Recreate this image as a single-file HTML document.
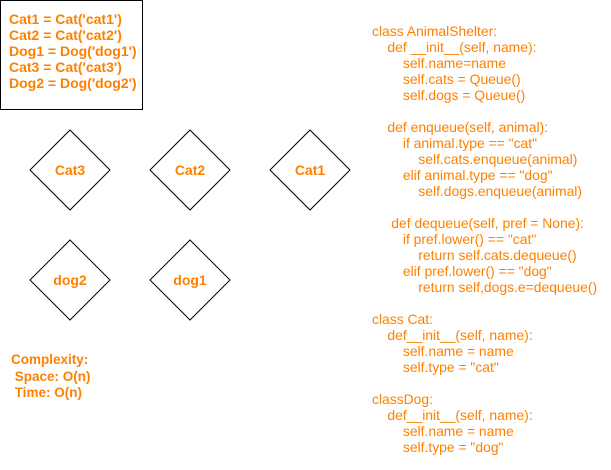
<!DOCTYPE html>
<html><head><meta charset="utf-8"><style>
body{margin:0;width:611px;height:470px;background:#fff;position:relative;overflow:hidden;font-family:"Liberation Sans",Arial,sans-serif;color:#FF8000}
.box{position:absolute;left:0;top:0;width:141px;height:108px;border:1px solid #000}
.bl{position:absolute;left:9px;top:11px;font-weight:bold;font-size:14px;line-height:16px;white-space:pre}
.code{position:absolute;left:372px;top:23px;font-size:13.9px;line-height:16px;white-space:pre}
.cx{position:absolute;left:11px;top:352px;font-weight:bold;font-size:13.5px;line-height:16.5px;white-space:pre}
svg{position:absolute;left:0;top:0}
</style></head><body>
<div class="box"></div>
<div class="bl">Cat1 = Cat('cat1')
Cat2 = Cat('cat2')
Dog1 = Dog('dog1')
Cat3 = Cat('cat3')
Dog2 = Dog('dog2')</div>
<svg width="611" height="470">
<g fill="#fff" stroke="#000" stroke-width="1">
<polygon points="70,130 110,170 70,210 30,170"/>
<polygon points="190,130 230,170 190,210 150,170"/>
<polygon points="310,130 350,170 310,210 270,170"/>
<polygon points="70,240 110,280 70,320 30,280"/>
<polygon points="190,240 230,280 190,320 150,280"/>
</g>
<g fill="#FF8000" font-family="Liberation Sans, Arial, sans-serif" font-weight="bold" font-size="14" text-anchor="middle">
<text x="70" y="175">Cat3</text>
<text x="190" y="175">Cat2</text>
<text x="310" y="175">Cat1</text>
<text x="70" y="285">dog2</text>
<text x="190" y="285">dog1</text>
</g>
</svg>
<div class="cx">Complexity:
 Space: O(n)
 Time: O(n)</div>
<div class="code">class AnimalShelter:
    def __init__(self, name):
        self.name=name
        self.cats = Queue()
        self.dogs = Queue()

    def enqueue(self, animal):
        if animal.type == "cat"
            self.cats.enqueue(animal)
        elif animal.type == "dog"
            self.dogs.enqueue(animal)

     def dequeue(self, pref = None):
        if pref.lower() == "cat"
            return self.cats.dequeue()
        elif pref.lower() == "dog"
            return self,dogs.e=dequeue()

class Cat:
    def__init__(self, name):
        self.name = name
        self.type = "cat"

classDog:
    def__init__(self, name):
        self.name = name
        self.type = "dog"</div>
</body></html>
